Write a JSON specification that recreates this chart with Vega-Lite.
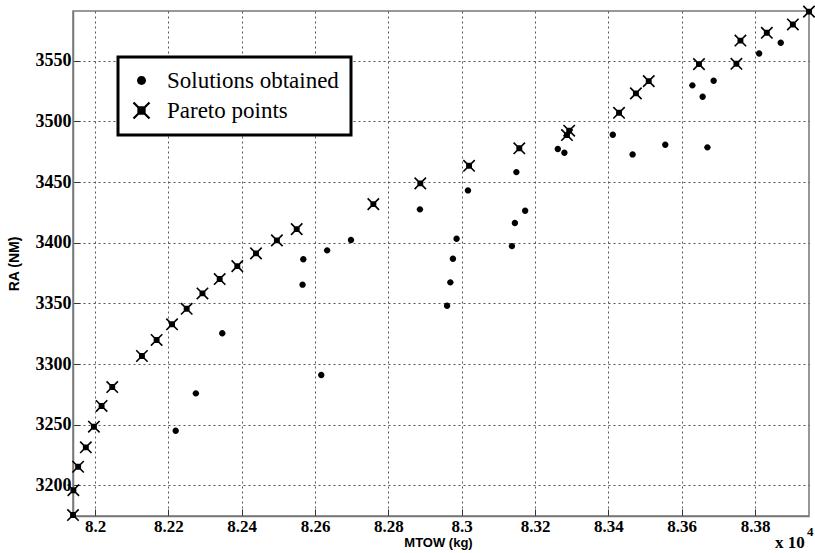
{
  "$schema": "https://vega.github.io/schema/vega-lite/v6.json",
  "autosize": {"type": "none"},
  "width": 736,
  "height": 505,
  "padding": {"left": 73, "top": 11, "right": 6, "bottom": 37},
  "background": "white",
  "config": {
    "view": {"stroke": "#777", "strokeWidth": 1.5},
    "axis": {
      "labelFont": "Liberation Serif",
      "labelFontWeight": "bold",
      "labelFontSize": 18,
      "labelColor": "black",
      "titleFont": "Liberation Sans",
      "titleFontWeight": "bold",
      "titleFontSize": 14,
      "titleColor": "black",
      "domainColor": "#777",
      "domainWidth": 1.5,
      "tickColor": "#333",
      "tickSize": -7,
      "tickWidth": 1,
      "gridColor": "#555",
      "gridDash": [2, 3],
      "gridWidth": 1,
      "gridOpacity": 1
    },
    "legend": {
      "orient": "none",
      "legendX": 45,
      "legendY": 46,
      "padding": 12,
      "strokeColor": "black",
      "strokeWidth": 3,
      "fillColor": "white",
      "labelFont": "Liberation Serif",
      "labelFontSize": 23,
      "labelColor": "black",
      "labelLimit": 0,
      "labelOffset": 14,
      "rowPadding": 6,
      "symbolSize": 256,
      "symbolFillColor": "black",
      "symbolStrokeWidth": 0,
      "symbolOpacity": 1
    }
  },
  "datasets": {
    "points": [
      {"MTOW": 8.2347, "RA": 3325.3, "type": "Solutions obtained"},
      {"MTOW": 8.2275, "RA": 3275.8, "type": "Solutions obtained"},
      {"MTOW": 8.2220, "RA": 3245.0, "type": "Solutions obtained"},
      {"MTOW": 8.2568, "RA": 3386.3, "type": "Solutions obtained"},
      {"MTOW": 8.2566, "RA": 3365.4, "type": "Solutions obtained"},
      {"MTOW": 8.2633, "RA": 3393.7, "type": "Solutions obtained"},
      {"MTOW": 8.2698, "RA": 3402.2, "type": "Solutions obtained"},
      {"MTOW": 8.2617, "RA": 3290.9, "type": "Solutions obtained"},
      {"MTOW": 8.2886, "RA": 3427.5, "type": "Solutions obtained"},
      {"MTOW": 8.3017, "RA": 3443.1, "type": "Solutions obtained"},
      {"MTOW": 8.2986, "RA": 3403.2, "type": "Solutions obtained"},
      {"MTOW": 8.2976, "RA": 3386.8, "type": "Solutions obtained"},
      {"MTOW": 8.2969, "RA": 3367.3, "type": "Solutions obtained"},
      {"MTOW": 8.2960, "RA": 3348.0, "type": "Solutions obtained"},
      {"MTOW": 8.3149, "RA": 3458.2, "type": "Solutions obtained"},
      {"MTOW": 8.3173, "RA": 3426.3, "type": "Solutions obtained"},
      {"MTOW": 8.3145, "RA": 3416.2, "type": "Solutions obtained"},
      {"MTOW": 8.3137, "RA": 3397.2, "type": "Solutions obtained"},
      {"MTOW": 8.3262, "RA": 3477.2, "type": "Solutions obtained"},
      {"MTOW": 8.3280, "RA": 3474.1, "type": "Solutions obtained"},
      {"MTOW": 8.3412, "RA": 3489.0, "type": "Solutions obtained"},
      {"MTOW": 8.3466, "RA": 3472.8, "type": "Solutions obtained"},
      {"MTOW": 8.3555, "RA": 3480.7, "type": "Solutions obtained"},
      {"MTOW": 8.3629, "RA": 3529.7, "type": "Solutions obtained"},
      {"MTOW": 8.3657, "RA": 3520.3, "type": "Solutions obtained"},
      {"MTOW": 8.3687, "RA": 3533.5, "type": "Solutions obtained"},
      {"MTOW": 8.3670, "RA": 3478.6, "type": "Solutions obtained"},
      {"MTOW": 8.3811, "RA": 3556.0, "type": "Solutions obtained"},
      {"MTOW": 8.3870, "RA": 3564.8, "type": "Solutions obtained"},
      {"MTOW": 8.1940, "RA": 3175.5, "type": "Pareto points"},
      {"MTOW": 8.1941, "RA": 3196.0, "type": "Pareto points"},
      {"MTOW": 8.1954, "RA": 3215.3, "type": "Pareto points"},
      {"MTOW": 8.1975, "RA": 3231.3, "type": "Pareto points"},
      {"MTOW": 8.1997, "RA": 3248.3, "type": "Pareto points"},
      {"MTOW": 8.2018, "RA": 3265.4, "type": "Pareto points"},
      {"MTOW": 8.2047, "RA": 3281.0, "type": "Pareto points"},
      {"MTOW": 8.2128, "RA": 3306.6, "type": "Pareto points"},
      {"MTOW": 8.2168, "RA": 3319.8, "type": "Pareto points"},
      {"MTOW": 8.2210, "RA": 3332.7, "type": "Pareto points"},
      {"MTOW": 8.2250, "RA": 3345.5, "type": "Pareto points"},
      {"MTOW": 8.2293, "RA": 3358.2, "type": "Pareto points"},
      {"MTOW": 8.2340, "RA": 3370.0, "type": "Pareto points"},
      {"MTOW": 8.2388, "RA": 3380.7, "type": "Pareto points"},
      {"MTOW": 8.2439, "RA": 3391.2, "type": "Pareto points"},
      {"MTOW": 8.2496, "RA": 3401.9, "type": "Pareto points"},
      {"MTOW": 8.2550, "RA": 3411.2, "type": "Pareto points"},
      {"MTOW": 8.2759, "RA": 3431.8, "type": "Pareto points"},
      {"MTOW": 8.2887, "RA": 3448.9, "type": "Pareto points"},
      {"MTOW": 8.3020, "RA": 3463.4, "type": "Pareto points"},
      {"MTOW": 8.3157, "RA": 3477.8, "type": "Pareto points"},
      {"MTOW": 8.3293, "RA": 3492.3, "type": "Pareto points"},
      {"MTOW": 8.3287, "RA": 3488.7, "type": "Pareto points"},
      {"MTOW": 8.3429, "RA": 3507.1, "type": "Pareto points"},
      {"MTOW": 8.3475, "RA": 3523.1, "type": "Pareto points"},
      {"MTOW": 8.3510, "RA": 3533.2, "type": "Pareto points"},
      {"MTOW": 8.3647, "RA": 3547.2, "type": "Pareto points"},
      {"MTOW": 8.3749, "RA": 3547.5, "type": "Pareto points"},
      {"MTOW": 8.3760, "RA": 3566.6, "type": "Pareto points"},
      {"MTOW": 8.3832, "RA": 3573.0, "type": "Pareto points"},
      {"MTOW": 8.3903, "RA": 3579.9, "type": "Pareto points"},
      {"MTOW": 8.3947, "RA": 3590.5, "type": "Pareto points"}
    ],
    "notes": [
      {"label": "x 10", "MTOW": 8.3947, "RA": 3174.7, "part": "base"},
      {"label": "4", "MTOW": 8.3947, "RA": 3174.7, "part": "exp"}
    ]
  },
  "layer": [
    {
      "data": {"name": "points"},
      "mark": {"type": "point", "filled": true, "fill": "black", "strokeWidth": 0, "size": 130, "opacity": 1, "clip": false},
      "encoding": {
        "x": {
          "field": "MTOW", "type": "quantitative",
          "scale": {"domain": [8.194, 8.3947], "nice": false, "zero": false},
          "axis": {"title": "MTOW (kg)", "values": [8.2, 8.22, 8.24, 8.26, 8.28, 8.3, 8.32, 8.34, 8.36, 8.38], "format": "~g", "labelFontSize": 17, "labelPadding": 9, "titlePadding": 2, "titleFontSize": 13, "titleX": 365}
        },
        "y": {
          "field": "RA", "type": "quantitative",
          "scale": {"domain": [3174.7, 3591], "nice": false, "zero": false},
          "axis": {"title": "RA (NM)", "values": [3200, 3250, 3300, 3350, 3400, 3450, 3500, 3550], "format": "d", "labelPadding": 9, "titlePadding": 14}
        },
        "shape": {
          "field": "type", "type": "nominal",
          "scale": {"domain": ["Solutions obtained", "Pareto points"], "range": [
            "M0.56,0A0.56,0.56 0 1,1 -0.56,0A0.56,0.56 0 1,1 0.56,0Z",
            "M-0.9,-1.1L1.1,0.9L0.9,1.1L-1.1,-0.9ZM0.9,-1.1L1.1,-0.9L-0.9,1.1L-1.1,0.9ZM-0.52,-0.52L0.52,-0.52L0.52,0.52L-0.52,0.52Z"
          ]},
          "legend": {"title": null}
        },
        "color": {"value": "black"}
      }
    },
    {
      "data": {"name": "notes"},
      "transform": [{"filter": "datum.part === 'base'"}],
      "mark": {"type": "text", "font": "Liberation Serif", "fontWeight": "bold", "fontSize": 17, "align": "left", "baseline": "alphabetic", "dx": -34, "dy": 32, "color": "black", "clip": false},
      "encoding": {
        "x": {"field": "MTOW", "type": "quantitative"},
        "y": {"field": "RA", "type": "quantitative"},
        "text": {"field": "label"}
      }
    },
    {
      "data": {"name": "notes"},
      "transform": [{"filter": "datum.part === 'exp'"}],
      "mark": {"type": "text", "font": "Liberation Serif", "fontWeight": "bold", "fontSize": 13, "align": "left", "baseline": "alphabetic", "dx": -2, "dy": 20, "color": "black", "clip": false},
      "encoding": {
        "x": {"field": "MTOW", "type": "quantitative"},
        "y": {"field": "RA", "type": "quantitative"},
        "text": {"field": "label"}
      }
    }
  ]
}
